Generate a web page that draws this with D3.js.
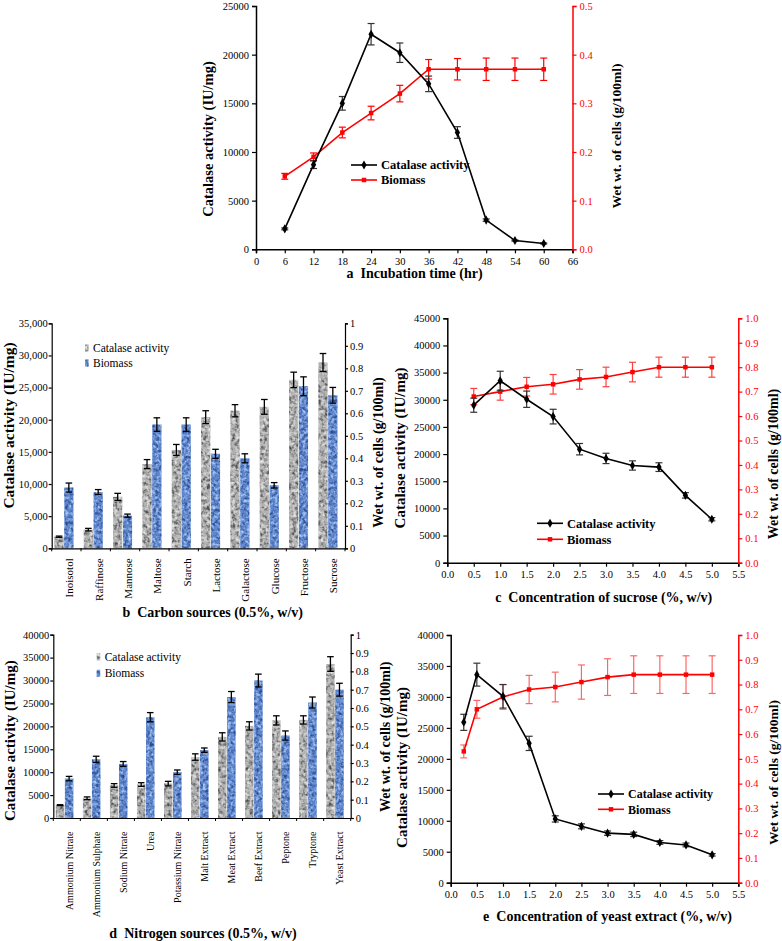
<!DOCTYPE html>
<html><head><meta charset="utf-8">
<script src="https://cdn.jsdelivr.net/npm/d3@7"></script>
<style>
body{margin:0;background:#fff;}
svg text{font-family:"Liberation Serif","Times New Roman",Tinos,serif;}
</style></head><body>
<svg id="chart" width="782" height="941"></svg>
<script>
// ================= DATA =================
// Panel a: incubation time
const timeHours = [6, 12, 18, 24, 30, 36, 42, 48, 54, 60];
const catalaseTime = [2100, 8700, 15000, 22100, 20200, 17000, 12000, 3000, 900, 600];
const catalaseTimeErr = [100, 400, 700, 1100, 1000, 800, 600, 120, 60, 50];
const biomassTime = [0.15, 0.19, 0.24, 0.28, 0.32, 0.37, 0.37, 0.37, 0.37, 0.37];
const biomassTimeErr = [0.006, 0.008, 0.011, 0.014, 0.017, 0.02, 0.022, 0.023, 0.023, 0.023];
const timeTicks = [0, 6, 12, 18, 24, 30, 36, 42, 48, 54, 60, 66];
const catalaseTicksA = [0, 5000, 10000, 15000, 20000, 25000];
const biomassTicksA = [0, 0.1, 0.2, 0.3, 0.4, 0.5];

// Panel b: carbon sources
const carbonSources = ["Inoisotol", "Raffinose", "Mannose", "Maltose", "Starch", "Lactose", "Galactose", "Glucose", "Fructose", "Sucrose"];
const catalaseCarbon = [1800, 2900, 8000, 13100, 15300, 20400, 21400, 22000, 26200, 28900];
const catalaseCarbonErr = [100, 200, 550, 700, 850, 1000, 950, 1150, 1200, 1400];
const biomassCarbon = [0.27, 0.25, 0.145, 0.55, 0.55, 0.42, 0.40, 0.28, 0.72, 0.68];
const biomassCarbonErr = [0.02, 0.011, 0.007, 0.03, 0.03, 0.02, 0.02, 0.012, 0.042, 0.035];
const catalaseTicksB = [0, 5000, 10000, 15000, 20000, 25000, 30000, 35000];
const biomassTicksBar = [0, 0.1, 0.2, 0.3, 0.4, 0.5, 0.6, 0.7, 0.8, 0.9, 1];

// Panel c: sucrose concentration
const sucroseConc = [0.5, 1.0, 1.5, 2.0, 2.5, 3.0, 3.5, 4.0, 4.5, 5.0];
const catalaseSucrose = [29000, 33500, 30100, 26900, 20900, 19200, 17900, 17600, 12400, 8000];
const catalaseSucroseErr = [1300, 1750, 1500, 1350, 1050, 950, 850, 800, 500, 300];
const biomassSucrose = [0.68, 0.70, 0.72, 0.73, 0.75, 0.76, 0.78, 0.80, 0.80, 0.80];
const biomassSucroseErr = [0.033, 0.035, 0.038, 0.04, 0.04, 0.04, 0.04, 0.041, 0.041, 0.041];
const concTicks = [0, 0.5, 1.0, 1.5, 2.0, 2.5, 3.0, 3.5, 4.0, 4.5, 5.0, 5.5];
const catalaseTicksC = [0, 5000, 10000, 15000, 20000, 25000, 30000, 35000, 40000, 45000];
const biomassTicksLine = [0, 0.1, 0.2, 0.3, 0.4, 0.5, 0.6, 0.7, 0.8, 0.9, 1.0];

// Panel d: nitrogen sources
const nitrogenSources = ["Ammonium Nitrate", "Ammonium Sulphate", "Sodium Nitrate", "Urea", "Potassium Nitrate", "Malt Extract", "Meat Extract", "Beef Extract", "Peptone", "Tryptone", "Yeast Extract"];
const catalaseNitrogen = [2800, 4300, 7100, 7300, 7500, 13300, 17700, 20100, 21300, 21400, 33600];
const catalaseNitrogenErr = [100, 300, 400, 400, 500, 700, 900, 900, 1000, 900, 1600];
const biomassNitrogen = [0.215, 0.32, 0.295, 0.55, 0.25, 0.37, 0.66, 0.75, 0.45, 0.63, 0.70];
const biomassNitrogenErr = [0.012, 0.017, 0.013, 0.025, 0.012, 0.012, 0.03, 0.035, 0.025, 0.03, 0.035];
const catalaseTicksD = [0, 5000, 10000, 15000, 20000, 25000, 30000, 35000, 40000];

// Panel e: yeast extract concentration
const yeastConc = [0.25, 0.5, 1.0, 1.5, 2.0, 2.5, 3.0, 3.5, 4.0, 4.5, 5.0];
const catalaseYeast = [25900, 33600, 30100, 22500, 10300, 9100, 8000, 7800, 6500, 6100, 4500];
const catalaseYeastErr = [1300, 1850, 1900, 1150, 500, 400, 350, 350, 300, 300, 200];
const biomassYeast = [0.53, 0.70, 0.75, 0.78, 0.79, 0.81, 0.83, 0.84, 0.84, 0.84, 0.84];
const biomassYeastErr = [0.026, 0.036, 0.05, 0.057, 0.06, 0.069, 0.074, 0.076, 0.076, 0.076, 0.076];
const catalaseTicksE = [0, 5000, 10000, 15000, 20000, 25000, 30000, 35000, 40000];

// ================= DRAWING =================
const FONT = '"Liberation Serif","Times New Roman",Tinos,serif';
const svg = d3.select("#chart");
svg.append("rect").attr("width", 782).attr("height", 941).attr("fill", "#fff");
const defs = svg.append("defs");

function mottle(id, dark, light, freq, seed) {
  const f = defs.append("filter").attr("id", id)
    .attr("x", 0).attr("y", 0).attr("width", 1).attr("height", 1)
    .attr("color-interpolation-filters", "sRGB");
  f.append("feTurbulence").attr("type", "fractalNoise").attr("baseFrequency", freq)
    .attr("numOctaves", 2).attr("seed", seed).attr("result", "n");
  const dc = d3.rgb(dark), lc = d3.rgb(light);
  f.append("feColorMatrix").attr("in", "n").attr("type", "matrix")
    .attr("values", `0 0 0 0 ${dc.r/255} 0 0 0 0 ${dc.g/255} 0 0 0 0 ${dc.b/255} 3.0 0 0 0 -1.3`)
    .attr("result", "d");
  f.append("feColorMatrix").attr("in", "n").attr("type", "matrix")
    .attr("values", `0 0 0 0 ${lc.r/255} 0 0 0 0 ${lc.g/255} 0 0 0 0 ${lc.b/255} 0 2.6 0 0 -1.15`)
    .attr("result", "l");
  f.append("feComposite").attr("in", "d").attr("in2", "SourceGraphic").attr("operator", "in").attr("result", "d2");
  f.append("feComposite").attr("in", "l").attr("in2", "SourceGraphic").attr("operator", "in").attr("result", "l2");
  const m = f.append("feMerge");
  m.append("feMergeNode").attr("in", "SourceGraphic");
  m.append("feMergeNode").attr("in", "d2");
  m.append("feMergeNode").attr("in", "l2");
}
mottle("mGray", "#505050", "#e6e6e6", 0.28, 3);
mottle("mBlue", "#2a4a90", "#b5cdf2", 0.32, 7);
const GRAY = "#b2b2b2", BLUE = "#5b86d0";

function styleAxis(sel, fs, color) {
  sel.attr("font-family", FONT).attr("font-size", fs);
  sel.select(".domain").attr("stroke-width", 1.5);
  sel.selectAll(".tick line").attr("stroke-width", 1.2);
  if (color) sel.style("color", color);
}

function titleText(x, y, txt, fs, rotate) {
  const t = svg.append("text").attr("font-family", FONT).attr("font-weight", "bold")
    .attr("font-size", fs).attr("text-anchor", "middle").attr("dy", "0.35em")
    .style("white-space", "pre").text(txt);
  if (rotate) t.attr("transform", `translate(${x},${y}) rotate(-90)`);
  else t.attr("x", x).attr("y", y);
}

function errBars(g, data, xf, yf, cap, color, width, opacity) {
  const eg = g.append("g").attr("stroke", color).attr("stroke-width", width).attr("opacity", opacity);
  data.forEach(d => {
    const x = xf(d), y1 = yf(d.v - d.e), y2 = yf(d.v + d.e);
    eg.append("line").attr("x1", x).attr("x2", x).attr("y1", y1).attr("y2", y2);
    eg.append("line").attr("x1", x - cap).attr("x2", x + cap).attr("y1", y1).attr("y2", y1);
    eg.append("line").attr("x1", x - cap).attr("x2", x + cap).attr("y1", y2).attr("y2", y2);
  });
}

function linePanel(c) {
  const g = svg.append("g");
  const x = d3.scaleLinear().domain(c.xDomain).range([c.left, c.right]);
  const y = d3.scaleLinear().domain([0, c.yMax]).range([c.bottom, c.top]);
  const y2 = d3.scaleLinear().domain([0, c.y2Max]).range([c.bottom, c.top]);

  g.append("g").attr("transform", `translate(0,${c.bottom})`)
    .call(d3.axisBottom(x).tickValues(c.xTicks).tickFormat(c.xFormat).tickSizeOuter(0).tickSize(4).tickPadding(4))
    .call(s => styleAxis(s, 10.5));
  g.append("g").attr("transform", `translate(${c.left},0)`)
    .call(d3.axisLeft(y).tickValues(c.yTicks).tickFormat(d3.format("d")).tickSizeOuter(0).tickSize(4).tickPadding(3))
    .call(s => styleAxis(s, 10.5));
  g.append("g").attr("transform", `translate(${c.right},0)`)
    .call(d3.axisRight(y2).tickValues(c.y2Ticks).tickFormat(d3.format(".1f")).tickSizeOuter(0).tickSize(4).tickPadding(3))
    .call(s => styleAxis(s, 10.5, "#ff0000"));

  const cat = c.xs.map((xv, i) => ({x: xv, v: c.cat[i], e: c.catErr[i]}));
  const bio = c.xs.map((xv, i) => ({x: xv, v: c.bio[i], e: c.bioErr[i]}));

  // biomass (red)
  errBars(g, bio, d => x(d.x), v => y2(v), 3.5, "#ff0000", 1.2, c.redErrOpacity);
  g.append("path").datum(bio).attr("fill", "none").attr("stroke", "#ff0000").attr("stroke-width", 1.6)
    .attr("d", d3.line().x(d => x(d.x)).y(d => y2(d.v)));
  g.selectAll(".bm").data(bio).join("path").attr("fill", "#ff0000")
    .attr("transform", d => `translate(${x(d.x)},${y2(d.v)})`)
    .attr("d", d3.symbol(d3.symbolSquare, 20));

  // catalase (black)
  errBars(g, cat, d => x(d.x), v => y(v), 3.5, "#333", 1.2, 1);
  g.append("path").datum(cat).attr("fill", "none").attr("stroke", "#000").attr("stroke-width", 1.6)
    .attr("d", d3.line().x(d => x(d.x)).y(d => y(d.v)));
  g.selectAll(".cm").data(cat).join("path").attr("fill", "#000")
    .attr("transform", d => `translate(${x(d.x)},${y(d.v)})`)
    .attr("d", d3.symbol(d3.symbolDiamond, 24));

  // legend
  const L = [{t: "Catalase activity", col: "#000", sym: d3.symbolDiamond, s: 24},
             {t: "Biomass", col: "#ff0000", sym: d3.symbolSquare, s: 20}];
  L.forEach((l, i) => {
    const ly = c.legY[i];
    g.append("line").attr("x1", c.legX).attr("x2", c.legX + 26).attr("y1", ly).attr("y2", ly)
      .attr("stroke", l.col).attr("stroke-width", 1.6);
    g.append("path").attr("fill", l.col).attr("transform", `translate(${c.legX + 13},${ly})`)
      .attr("d", d3.symbol(l.sym, l.s));
    g.append("text").attr("x", c.legX + 30).attr("y", ly).attr("dy", "0.35em")
      .attr("font-family", FONT).attr("font-weight", "bold").attr("font-size", c.legFs).text(l.t);
  });

  titleText(c.xt[0], c.xt[1], c.xTitle, 14, false);
  titleText(c.yt[0], c.yt[1], "Catalase activity (IU/mg)", c.yt[2], true);
  titleText(c.y2t[0], c.y2t[1], "Wet wt. of cells (g/100ml)", c.y2t[2], true);
}

function barPanel(c) {
  const g = svg.append("g");
  const x = d3.scaleBand().domain(c.cats).range([c.left, c.right]).paddingInner(0).paddingOuter(0);
  const bw = x.bandwidth();
  const y = d3.scaleLinear().domain([0, c.yMax]).range([c.bottom, c.top]);
  const y2 = d3.scaleLinear().domain([0, 1]).range([c.bottom, c.top]);

  // bars
  const rows = c.cats.map((k, i) => ({k, cat: c.cat[i], ce: c.catErr[i], bio: c.bio[i], be: c.bioErr[i]}));
  g.selectAll(".gb").data(rows).join("rect")
    .attr("x", d => x(d.k) + bw * 0.095).attr("width", bw * 0.31)
    .attr("y", d => y(d.cat)).attr("height", d => y(0) - y(d.cat))
    .attr("fill", GRAY).attr("filter", "url(#mGray)");
  g.selectAll(".bb").data(rows).join("rect")
    .attr("x", d => x(d.k) + bw * 0.43).attr("width", bw * 0.31)
    .attr("y", d => y2(d.bio)).attr("height", d => y2(0) - y2(d.bio))
    .attr("fill", BLUE).attr("filter", "url(#mBlue)");
  errBars(g, rows.map(r => ({k: r.k, v: r.cat, e: r.ce})), d => x(d.k) + bw * 0.25, v => y(v), 3.3, "#000", 1.3, 1);
  errBars(g, rows.map(r => ({k: r.k, v: r.bio, e: r.be})), d => x(d.k) + bw * 0.585, v => y2(v), 3.3, "#000", 1.3, 1);

  // axes
  const xa = g.append("g").attr("transform", `translate(0,${c.bottom})`)
    .call(d3.axisBottom(x).tickSize(0).tickPadding(c.catOffset).tickSizeOuter(0))
    .call(s => styleAxis(s, c.catFs));
  xa.selectAll(".tick text").attr("transform", "rotate(-90)").attr("text-anchor", "end")
    .attr("x", -c.catOffset).attr("y", 0).attr("dy", "0.62em");
  const bounds = c.cats.map(k => x(k)).concat([x(c.cats[c.cats.length - 1]) + bw]);
  g.append("g").selectAll("line").data(bounds).join("line")
    .attr("x1", d => d).attr("x2", d => d).attr("y1", c.bottom).attr("y2", c.bottom + 3)
    .attr("stroke", "#000").attr("stroke-width", 1);

  g.append("g").attr("transform", `translate(${c.left},0)`)
    .call(d3.axisLeft(y).tickValues(c.yTicks).tickFormat(d3.format(c.yFmt)).tickSizeOuter(0).tickSize(3).tickPadding(1))
    .call(s => styleAxis(s, c.tickFs));
  g.append("g").attr("transform", `translate(${c.right},0)`)
    .call(d3.axisRight(y2).tickValues(biomassTicksBar).tickFormat(d3.format("~g")).tickSizeOuter(0).tickSize(3).tickPadding(2))
    .call(s => styleAxis(s, c.tickFs));
  g.selectAll(".domain").attr("stroke-width", 1.2);

  // legend
  [{t: "Catalase activity", f: GRAY, fl: "url(#mGray)"}, {t: "Biomass", f: BLUE, fl: "url(#mBlue)"}].forEach((l, i) => {
    const ly = c.legY[i];
    g.append("rect").attr("x", c.legX).attr("y", ly - 3.5).attr("width", 3.5).attr("height", 7)
      .attr("fill", l.f).attr("filter", l.fl);
    g.append("text").attr("x", c.legX + 8).attr("y", ly).attr("dy", "0.35em")
      .attr("font-family", FONT).attr("font-size", 11.5).text(l.t);
  });

  titleText(c.xt[0], c.xt[1], c.xTitle, 14, false);
  titleText(c.yt[0], c.yt[1], "Catalase activity (IU/mg)", c.yt[2], true);
  titleText(c.y2t[0], c.y2t[1], "Wet wt. of cells (g/100ml)", c.y2t[2], true);
}

// Panel a
linePanel({
  left: 256, right: 572.5, top: 6, bottom: 249.3,
  xDomain: [0, 66], xTicks: timeTicks, xFormat: d3.format("d"),
  yMax: 25000, yTicks: catalaseTicksA, y2Max: 0.5, y2Ticks: biomassTicksA,
  xs: timeHours, cat: catalaseTime, catErr: catalaseTimeErr, bio: biomassTime, bioErr: biomassTimeErr,
  redErrOpacity: 1,
  legX: 351, legY: [165, 180], legFs: 12.5,
  xTitle: "a  Incubation time (hr)", xt: [414.5, 273.3],
  yt: [208, 139, 14.5], y2t: [616, 136, 13.5]
});

// Panel c
linePanel({
  left: 447.3, right: 738.3, top: 318.3, bottom: 562.7,
  xDomain: [0, 5.5], xTicks: concTicks, xFormat: d3.format(".1f"),
  yMax: 45000, yTicks: catalaseTicksC, y2Max: 1.0, y2Ticks: biomassTicksLine,
  xs: sucroseConc, cat: catalaseSucrose, catErr: catalaseSucroseErr, bio: biomassSucrose, bioErr: biomassSucroseErr,
  redErrOpacity: 0.75,
  legX: 537, legY: [523.3, 539.3], legFs: 12.5,
  xTitle: "c  Concentration of sucrose (%, w/v)", xt: [603.7, 596.7],
  yt: [400, 448, 15], y2t: [773.5, 464, 14]
});

// Panel e
linePanel({
  left: 450.7, right: 738.3, top: 635, bottom: 882.7,
  xDomain: [0, 5.5], xTicks: concTicks, xFormat: d3.format(".1f"),
  yMax: 40000, yTicks: catalaseTicksE, y2Max: 1.0, y2Ticks: biomassTicksLine,
  xs: yeastConc, cat: catalaseYeast, catErr: catalaseYeastErr, bio: biomassYeast, bioErr: biomassYeastErr,
  redErrOpacity: 0.6,
  legX: 598, legY: [794, 809.3], legFs: 12,
  xTitle: "e  Concentration of yeast extract (%, w/v)", xt: [607.5, 916],
  yt: [401.7, 767.5, 15], y2t: [773.5, 772.5, 13.5]
});

// Panel b
barPanel({
  left: 51.7, right: 345, top: 323.3, bottom: 548.3,
  cats: carbonSources, cat: catalaseCarbon, catErr: catalaseCarbonErr, bio: biomassCarbon, bioErr: biomassCarbonErr,
  yMax: 35000, yTicks: catalaseTicksB, yFmt: ",", tickFs: 10.5,
  catFs: 11, catOffset: 10,
  legX: 85, legY: [348, 363],
  xTitle: "b  Carbon sources (0.5%, w/v)", xt: [212.7, 611.7],
  yt: [8.5, 425.5, 15.5], y2t: [378, 452.5, 14]
});

// Panel d
barPanel({
  left: 53.3, right: 350.7, top: 634.7, bottom: 818,
  cats: nitrogenSources, cat: catalaseNitrogen, catErr: catalaseNitrogenErr, bio: biomassNitrogen, bioErr: biomassNitrogenErr,
  yMax: 40000, yTicks: catalaseTicksD, yFmt: "d", tickFs: 10.5,
  catFs: 10, catOffset: 13.5,
  legX: 96.7, legY: [656.7, 673.3],
  xTitle: "d  Nitrogen sources (0.5%, w/v)", xt: [203, 933.3],
  yt: [10, 740.7, 15], y2t: [385, 736.7, 14]
});
</script>
</body></html>
